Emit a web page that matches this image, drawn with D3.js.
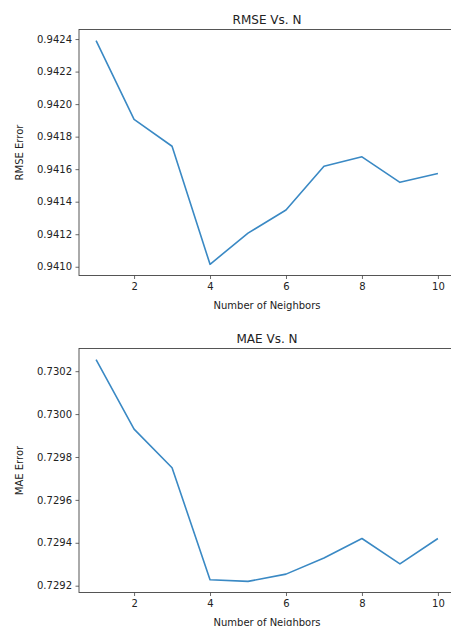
<!DOCTYPE html>
<html>
<head>
<meta charset="utf-8">
<script src="https://cdn.jsdelivr.net/npm/d3@7"></script>
<style>
  body { margin: 0; background: #fff; overflow: hidden; }
  text { font-family: "DejaVu Sans", sans-serif; fill: #222; }
</style>
</head>
<body>
<div id="viz"></div>
<script>
var width = 451, height = 626;

var neighbors = [1, 2, 3, 4, 5, 6, 7, 8, 9, 10];
var rmseValues = [0.94239, 0.941906, 0.941741, 0.941015, 0.941207, 0.941349, 0.941618, 0.941676, 0.941519, 0.941573];
var maeValues = [0.730254, 0.72993, 0.72975, 0.729228, 0.72922, 0.729254, 0.729329, 0.72942, 0.729302, 0.72942];
var xTicks = [2, 4, 6, 8, 10];
var rmseTicks = [0.9410, 0.9412, 0.9414, 0.9416, 0.9418, 0.9420, 0.9422, 0.9424];
var maeTicks = [0.7292, 0.7294, 0.7296, 0.7298, 0.7300, 0.7302];

var svg = d3.select("#viz")
	.append("svg")
		.attr("width", width)
		.attr("height", height);

// matplotlib-style 5% padding
function padded(ext) {
	var pad = (ext[1] - ext[0]) * 0.05;
	return [ext[0] - pad, ext[1] + pad];
}

function renderPanel(g, box, values, yTicks, title, yLabel) {
	var x = d3.scaleLinear()
		.domain(padded(d3.extent(neighbors)))
		.range([box.left, box.right]);
	var y = d3.scaleLinear()
		.domain(padded(d3.extent(values)))
		.range([box.bottom, box.top]);

	var line = d3.line()
		.x(function (d, i) { return x(neighbors[i]); })
		.y(function (d) { return y(d); });

	g.append("path")
		.datum(values)
		.attr("d", line)
		.attr("fill", "none")
		.attr("stroke", "#3a89c4")
		.attr("stroke-width", 1.6)
		.attr("stroke-linejoin", "round");

	var xAxis = g.append("g")
		.attr("transform", "translate(0," + box.bottom + ")")
		.call(d3.axisBottom(x).tickValues(xTicks).tickSize(3.5).tickPadding(3.5).tickFormat(d3.format("d")));
	var yAxis = g.append("g")
		.attr("transform", "translate(" + box.left + ",0)")
		.call(d3.axisLeft(y).tickValues(yTicks).tickSize(3.5).tickPadding(3.5).tickFormat(d3.format(".4f")));

	[xAxis, yAxis].forEach(function (a) {
		a.select(".domain").remove();
		a.selectAll("line").attr("stroke", "#444").attr("stroke-width", 0.8);
		a.selectAll("text")
			.style("font-family", "DejaVu Sans, sans-serif")
			.style("font-size", "10px")
			.attr("fill", "#333");
	});

	// spines
	g.append("rect")
		.attr("x", box.left)
		.attr("y", box.top)
		.attr("width", box.right - box.left)
		.attr("height", box.bottom - box.top)
		.attr("fill", "none")
		.attr("stroke", "#444")
		.attr("stroke-width", 0.9);

	g.append("text")
		.text(title)
		.attr("x", (box.left + box.right) / 2)
		.attr("y", box.top - 6)
		.attr("text-anchor", "middle")
		.style("font-size", "12px");

	g.append("text")
		.text("Number of Neighbors")
		.attr("x", (box.left + box.right) / 2)
		.attr("y", box.bottom + 33)
		.attr("text-anchor", "middle")
		.style("font-size", "10px");

	g.append("text")
		.text(yLabel)
		.attr("transform", "translate(" + 23 + "," + ((box.top + box.bottom) / 2) + ") rotate(-90)")
		.attr("text-anchor", "middle")
		.style("font-size", "10px");
}

renderPanel(svg.append("g"), { left: 79, right: 455, top: 29.5, bottom: 275.5 },
	rmseValues, rmseTicks, "RMSE Vs. N", "RMSE Error");
renderPanel(svg.append("g"), { left: 79, right: 455, top: 348.5, bottom: 592.5 },
	maeValues, maeTicks, "MAE Vs. N", "MAE Error");

// The End
</script>
</body>
</html>
